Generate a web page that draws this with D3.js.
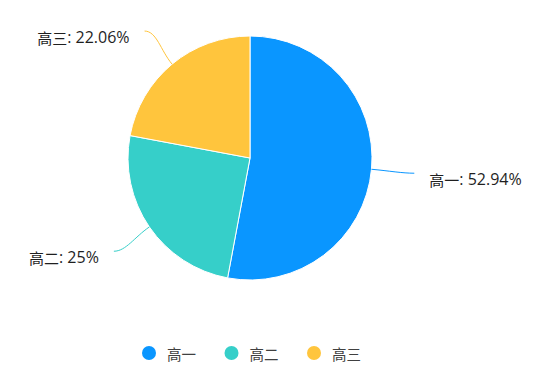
<!DOCTYPE html>
<html><head><meta charset="utf-8">
<script src="https://cdn.jsdelivr.net/npm/d3@7"></script>
<style>body{margin:0;background:#fff;}svg{display:block;font-family:"Open Sans","Noto Sans CJK SC",sans-serif;}</style>
</head><body>
<svg id="c" width="547" height="371"></svg>
<script>
const categories = ["高一", "高二", "高三"];
const values = [36, 17, 15];
const percentLabels = ["52.94%", "25%", "22.06%"];
const colors = ["#0a96ff", "#36cfc9", "#ffc53d"];

const svg = d3.select("#c");
const cx = 250, cy = 158, R = 122;
const g = svg.append("g").attr("transform", `translate(${cx},${cy})`);
const data = categories.map((c, i) => ({cat: c, v: values[i], label: percentLabels[i], color: colors[i]}));
const pie = d3.pie().value(d => d.v).sort(null);
const arcs = pie(data);
const arc = d3.arc().innerRadius(0).outerRadius(R);

g.selectAll("path.slice").data(arcs).join("path")
  .attr("class", "slice")
  .attr("d", arc)
  .attr("fill", d => d.data.color)
  .attr("stroke", "#fff").attr("stroke-width", 1);

const pt = (a, r) => [Math.sin(a) * r, -Math.cos(a) * r];
arcs.forEach(d => {
  const a = (d.startAngle + d.endAngle) / 2;
  const p0 = pt(a, R);
  const p2 = pt(a, 165);
  const c1 = pt(a, 140);
  const s = Math.sin(a) >= 0 ? 1 : -1;
  const c2 = [p2[0] - s * 12, p2[1]];
  const path = d3.path();
  path.moveTo(p0[0], p0[1]);
  path.bezierCurveTo(c1[0], c1[1], c2[0], c2[1], p2[0], p2[1]);
  g.append("path").attr("d", path.toString()).attr("fill", "none")
    .attr("stroke", d.data.color).attr("stroke-width", 1);
  const t = g.append("text")
    .attr("x", p2[0] + s * 15).attr("y", p2[1] + 6)
    .attr("text-anchor", s > 0 ? "start" : "end")
    .attr("dominant-baseline", "central")
    .attr("fill", "#1f1f1f");
  t.append("tspan").attr("font-family", "Noto Sans CJK SC").attr("font-size", 15).text(d.data.cat);
  t.append("tspan").attr("font-size", 16).text(`: ${d.data.label}`);
});

const legendX = d3.scalePoint().domain(categories).range([149, 314]);
const lg = svg.append("g");
categories.forEach((c, i) => {
  const x = legendX(c);
  lg.append("circle").attr("cx", x).attr("cy", 353).attr("r", 7).attr("fill", colors[i]);
  lg.append("text").attr("x", x + 18).attr("y", 353)
    .attr("dominant-baseline", "central").attr("font-family", "Noto Sans CJK SC")
    .attr("font-size", 14.5).attr("fill", "#404040").text(c);
});
</script>
</body></html>
